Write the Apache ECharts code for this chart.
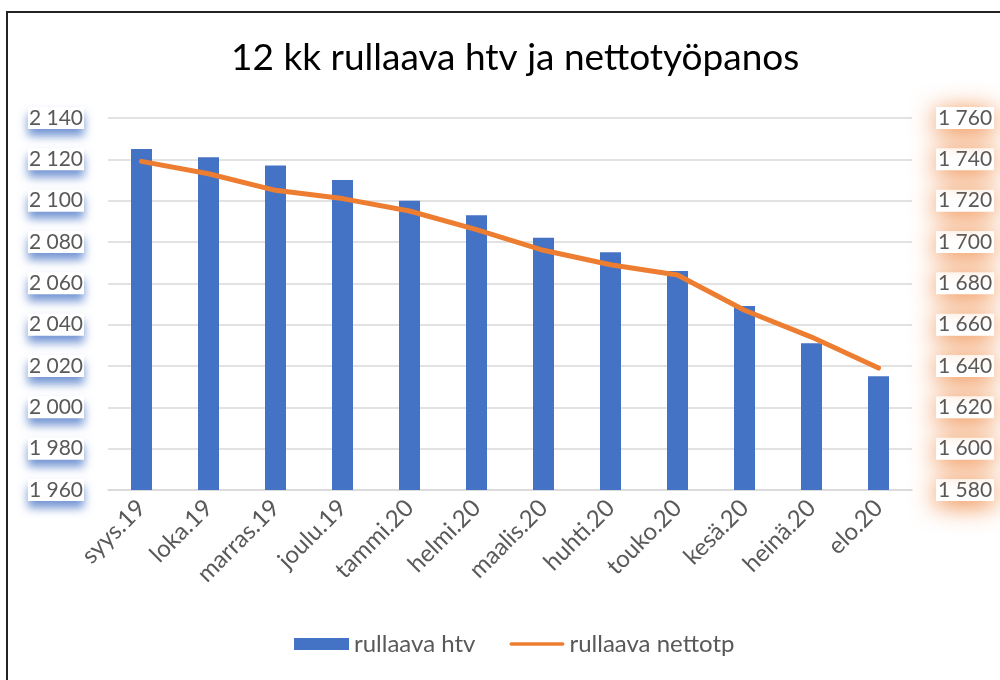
<!DOCTYPE html>
<html>
<head>
<meta charset="utf-8">
<script src="https://cdn.jsdelivr.net/npm/echarts@6/dist/echarts.min.js"></script>
<style>
  html, body { margin: 0; padding: 0; background: #fff; }
  #chart { width: 1000px; height: 680px; }
</style>
</head>
<body>
<div id="chart"></div>
<script>
// kuukaudet
var months = ['syys.19', 'loka.19', 'marras.19', 'joulu.19', 'tammi.20', 'helmi.20',
    'maalis.20', 'huhti.20', 'touko.20', 'kesä.20', 'heinä.20', 'elo.20'];

// 12 kk rullaava htv (vasen akseli)
var htv = [2125, 2121, 2117, 2110, 2100, 2093, 2082, 2075, 2066, 2049, 2031, 2015];

// 12 kk rullaava nettotyöpanos (oikea akseli)
var nettotp = [1739, 1733, 1725, 1721, 1715, 1706, 1696, 1689, 1684, 1667, 1654, 1639];

var leftMin = 1960, leftMax = 2140;
var rightMin = 1580, rightMax = 1760;
var step = 20;

var fontName = 'Lato, "Liberation Sans", sans-serif';

// tuhaterotin välilyönnillä, kuten Excelissä
function fmt(v) {
    return String(v).replace(/\B(?=(\d{3})+(?!\d))/g, ' ');
}

var myChart = echarts.init(document.getElementById('chart'));

var option = {
    backgroundColor: '#fff',
    animation: false,
    textStyle: { fontFamily: fontName },
    title: {
        text: '12 kk rullaava htv ja nettotyöpanos',
        left: 226,
        top: 35,
        textStyle: { fontFamily: fontName, fontSize: 37, fontWeight: 'normal', color: '#000' }
    },
    graphic: [{
        type: 'rect',
        shape: { x: 7, y: 12, width: 1010, height: 690 },
        style: { fill: 'none', stroke: '#222', lineWidth: 2 },
        silent: true
    }],
    legend: {
        bottom: 19,
        left: 289,
        itemWidth: 55,
        itemHeight: 12,
        itemGap: 34,
        textStyle: { fontSize: 24, color: '#595959', fontFamily: fontName },
        data: [
            { name: 'rullaava htv', icon: 'rect' },
            { name: 'rullaava nettotp', icon: 'path://M2,0h56a2,2 0 0 1 0,4h-56a2,2 0 0 1 0,-4z' }
        ]
    },
    grid: {
        left: 108,
        right: 88,
        top: 118,
        bottom: 190
    },
    xAxis: {
        type: 'category',
        data: months,
        axisTick: { show: false },
        axisLine: { lineStyle: { color: '#d9d9d9', width: 1.5 } },
        axisLabel: {
            rotate: 45,
            margin: 14,
            interval: 0,
            fontSize: 24,
            color: '#595959',
            fontFamily: fontName
        }
    },
    yAxis: [{
        type: 'value',
        min: leftMin,
        max: leftMax,
        interval: step,
        axisLine: { show: false },
        axisTick: { show: false },
        splitLine: { lineStyle: { color: '#d9d9d9', width: 1.5 } },
        axisLabel: {
            margin: 24,
            fontSize: 21,
            color: '#595959',
            fontFamily: fontName,
            formatter: fmt,
            backgroundColor: '#fff',
            padding: [0, 1, 1, 1],
            shadowColor: 'rgba(68,114,196,0.75)',
            shadowBlur: 10,
            shadowOffsetY: 7
        }
    }, {
        type: 'value',
        min: rightMin,
        max: rightMax,
        interval: step,
        axisLine: { show: false },
        axisTick: { show: false },
        splitLine: { show: false },
        axisLabel: {
            margin: 24,
            fontSize: 21,
            color: '#595959',
            fontFamily: fontName,
            formatter: fmt,
            backgroundColor: '#fff',
            padding: [0, 2, 1, 2],
            shadowColor: 'rgba(237,125,49,1)',
            shadowBlur: 26,
            shadowOffsetY: 4
        }
    }],
    series: [{
        name: 'rullaava htv',
        type: 'bar',
        yAxisIndex: 0,
        barWidth: 21,
        itemStyle: { color: '#4472C4' },
        data: htv
    }, {
        name: 'rullaava nettotp',
        type: 'line',
        yAxisIndex: 1,
        symbol: 'none',
        lineStyle: { color: '#ED7D31', width: 5, cap: 'round', join: 'round' },
        itemStyle: { color: '#ED7D31' },
        data: nettotp
    }]
};

myChart.setOption(option);
</script>
</body>
</html>
